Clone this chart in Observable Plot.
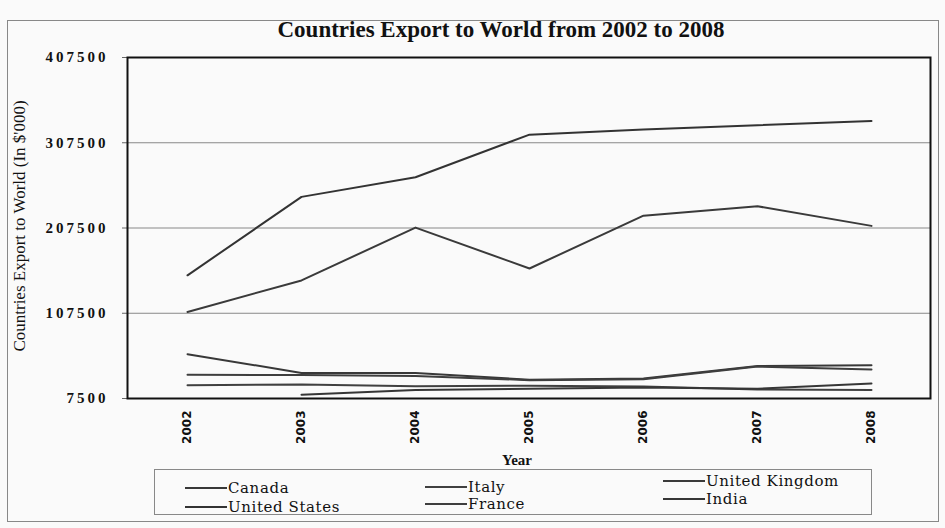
<!DOCTYPE html>
<html><head><meta charset="utf-8">
<script src="https://cdn.jsdelivr.net/npm/d3@7"></script>
<script src="https://cdn.jsdelivr.net/npm/@observablehq/plot@0.6"></script>
<style>
body{margin:0;background:#fff;}
#wrap{position:relative;width:945px;height:528px;background:#fafafa;overflow:hidden;}
#outer{position:absolute;left:7px;top:20px;width:930px;height:500px;border:1px solid #888;}
#title{position:absolute;left:0;top:17px;width:1002px;text-align:center;font:bold 23px "Liberation Serif";color:#111;}
#chart{position:absolute;left:0;top:45px;}
#ytitle{position:absolute;left:20px;top:226px;transform:translate(-50%,-50%) rotate(-90deg);white-space:nowrap;font:17px "Liberation Serif";color:#111;}
#xtitle{position:absolute;left:517px;top:460px;transform:translate(-50%,-50%);font:bold 15px "Liberation Serif";color:#111;}
#legend{position:absolute;left:154px;top:469px;width:716px;height:44px;border:1px solid #888;}
.item{position:absolute;font:15px "DejaVu Serif";letter-spacing:0.6px;color:#111;display:flex;align-items:center;white-space:nowrap;}
.sw{display:inline-block;width:42px;height:2px;margin-right:1px;}
.c g[aria-label="y-axis tick label"] text{letter-spacing:3px;font-family:"Liberation Serif";font-weight:bold;font-size:15px;}
.c g[aria-label="x-axis tick label"] text{font-family:"DejaVu Sans";font-weight:bold;font-size:12px;}
</style>
</head><body>
<div id="wrap">
  <div id="outer"></div>
  <div id="title">Countries Export to World from 2002 to 2008</div>
  <div id="ytitle">Countries Export to World (In $'000)</div>
  <div id="chart"></div>
  <div id="xtitle">Year</div>
  <div id="legend"></div>
</div>
<script>
const years = ["2002","2003","2004","2005","2006","2007","2008"];
const seriesNames = ["Canada","Italy","United Kingdom","United States","France","India"];
const canada        = [59500, 37500, 37500, 29500, 31000, 45500, 46500];
const italy         = [23000, 24000, 22000, 22500, 21500, 18000, 17500];
const unitedKingdom = [109000, 146000, 208000, 160000, 222000, 233000, 210000];
const unitedStates  = [152000, 244000, 267000, 317000, 323000, 328000, 333000];
const france        = [35500, 35000, 34000, 29000, 30000, 45000, 41500];
const india         = [null, 12000, 17500, 19000, 20500, 19000, 25000];
const yTicks = [7500, 107500, 207500, 307500, 407500];
const seriesColors = ["#383838","#404040","#3a3a3a","#333333","#3e3e3e","#363636"];

const valuesByName = {
  "Canada": canada, "Italy": italy, "United Kingdom": unitedKingdom,
  "United States": unitedStates, "France": france, "India": india
};
const rows = [];
for (const name of seriesNames) {
  valuesByName[name].forEach((v, i) => {
    if (v != null) rows.push({country: name, year: years[i], value: v});
  });
}

const chart = Plot.plot({
  width: 945,
  height: 425,
  marginTop: 12,
  marginBottom: 72,
  marginLeft: 127,
  marginRight: 15,
  className: "c",
  style: {background: "transparent", color: "#111"},
  x: {type: "point", domain: years, padding: 0.5, label: null},
  y: {domain: [7500, 407500], label: null},
  color: {domain: seriesNames, range: seriesColors},
  marks: [
    Plot.gridY(yTicks, {stroke: "#888", strokeOpacity: 1, strokeWidth: 1}),
    Plot.axisY(yTicks, {tickSize: 5, tickPadding: 14, tickFormat: d => String(d), label: null, stroke: "#666"}),
    Plot.axisX({tickSize: 0, tickPadding: 12, tickRotate: -90, label: null}),
    Plot.lineY(rows, {x: "year", y: "value", z: "country", stroke: "country", strokeWidth: 2}),
    Plot.frame({stroke: "#111", strokeWidth: 2})
  ]
});
document.getElementById("chart").appendChild(chart);

// legend
const legend = document.getElementById("legend");
const pos = [
  [30, 9], [270, 8], [508, 2],
  [30, 28], [270, 25], [508, 20]
];
seriesNames.forEach((name, i) => {
  const it = document.createElement("div");
  it.className = "item";
  it.style.left = pos[i][0] + "px";
  it.style.top = pos[i][1] + "px";
  const sw = document.createElement("span");
  sw.className = "sw";
  sw.style.background = seriesColors[i];
  it.appendChild(sw);
  it.appendChild(document.createTextNode(name));
  legend.appendChild(it);
});
</script>
</body></html>
